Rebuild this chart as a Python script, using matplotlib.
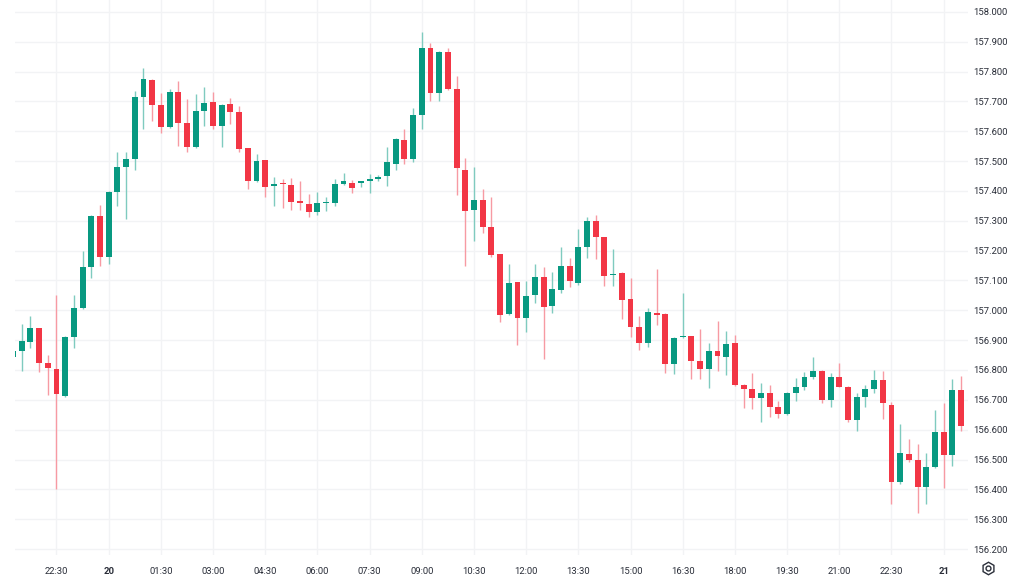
import numpy as np
import matplotlib.pyplot as plt
from matplotlib.lines import Line2D

plt.rcParams['font.family'] = ['Roboto', 'DejaVu Sans']

# 15-minute candles, from 21:15 (day 19) to 00:30 (day 21)
opens = [156.845, 156.864, 156.894, 156.941, 156.823, 156.803, 156.713, 156.910, 157.008, 157.145,
         157.316, 157.179, 157.397, 157.480, 157.507, 157.715, 157.772, 157.688, 157.615, 157.732,
         157.628, 157.547, 157.668, 157.698, 157.618, 157.692, 157.665, 157.544, 157.433, 157.504,
         157.417, 157.427, 157.420, 157.366, 157.356, 157.330, 157.360, 157.360, 157.423, 157.427,
         157.428, 157.433, 157.440, 157.450, 157.490, 157.571, 157.507, 157.655, 157.879, 157.728,
         157.866, 157.742, 157.470, 157.336, 157.370, 157.279, 157.189, 156.988, 157.095, 156.974,
         157.051, 157.112, 157.014, 157.068, 157.149, 157.092, 157.212, 157.299, 157.246, 157.118,
         157.125, 157.038, 156.944, 156.890, 156.990, 156.988, 156.820, 156.911, 156.914, 156.830,
         156.803, 156.864, 156.843, 156.890, 156.750, 156.736, 156.706, 156.723, 156.676, 156.652,
         156.723, 156.743, 156.776, 156.797, 156.699, 156.776, 156.743, 156.632, 156.709, 156.736,
         156.766, 156.683, 156.424, 156.518, 156.498, 156.408, 156.475, 156.592, 156.515, 156.733]
highs = [156.870, 156.954, 156.981, 156.941, 156.850, 157.051, 156.915, 157.051, 157.199, 157.318,
         157.353, 157.400, 157.531, 157.531, 157.735, 157.812, 157.775, 157.728, 157.742, 157.769,
         157.708, 157.725, 157.749, 157.732, 157.690, 157.712, 157.685, 157.545, 157.524, 157.505,
         157.447, 157.440, 157.443, 157.433, 157.390, 157.397, 157.380, 157.440, 157.460, 157.437,
         157.432, 157.457, 157.453, 157.547, 157.576, 157.608, 157.678, 157.933, 157.896, 157.868,
         157.879, 157.785, 157.510, 157.480, 157.407, 157.380, 157.190, 157.155, 157.096, 157.098,
         157.155, 157.145, 157.128, 157.212, 157.175, 157.273, 157.313, 157.320, 157.247, 157.205,
         157.128, 157.108, 156.981, 157.008, 157.138, 156.990, 156.910, 157.058, 156.915, 156.937,
         156.890, 156.964, 156.931, 156.917, 156.752, 156.790, 156.757, 156.750, 156.696, 156.725,
         156.773, 156.793, 156.843, 156.800, 156.790, 156.823, 156.745, 156.723, 156.750, 156.800,
         156.797, 156.693, 156.619, 156.569, 156.552, 156.522, 156.666, 156.689, 156.770, 156.780]
lows = [156.840, 156.797, 156.874, 156.793, 156.716, 156.401, 156.710, 156.874, 157.005, 157.108,
        157.149, 157.155, 157.350, 157.306, 157.470, 157.608, 157.635, 157.594, 157.612, 157.551,
        157.531, 157.545, 157.618, 157.608, 157.547, 157.625, 157.531, 157.407, 157.430, 157.380,
        157.350, 157.343, 157.336, 157.336, 157.313, 157.320, 157.333, 157.350, 157.420, 157.393,
        157.413, 157.393, 157.433, 157.417, 157.470, 157.490, 157.497, 157.608, 157.702, 157.702,
        157.740, 157.387, 157.149, 157.232, 157.259, 157.180, 156.961, 156.985, 156.884, 156.927,
        157.024, 156.837, 156.991, 157.058, 157.078, 157.085, 157.175, 157.172, 157.081, 157.081,
        156.971, 156.911, 156.867, 156.877, 156.951, 156.790, 156.786, 156.908, 156.770, 156.770,
        156.740, 156.797, 156.783, 156.745, 156.672, 156.669, 156.626, 156.642, 156.639, 156.650,
        156.696, 156.733, 156.770, 156.689, 156.676, 156.742, 156.626, 156.595, 156.676, 156.723,
        156.636, 156.351, 156.418, 156.490, 156.320, 156.351, 156.470, 156.404, 156.478, 156.595]
closes = [156.862, 156.897, 156.941, 156.823, 156.807, 156.719, 156.910, 157.008, 157.145, 157.316,
          157.179, 157.397, 157.480, 157.507, 157.715, 157.775, 157.688, 157.615, 157.732, 157.628,
          157.547, 157.668, 157.695, 157.618, 157.688, 157.665, 157.541, 157.433, 157.500, 157.413,
          157.423, 157.423, 157.363, 157.360, 157.330, 157.360, 157.363, 157.423, 157.433, 157.410,
          157.431, 157.440, 157.447, 157.497, 157.574, 157.507, 157.655, 157.879, 157.728, 157.866,
          157.742, 157.477, 157.333, 157.370, 157.279, 157.185, 156.984, 157.092, 156.974, 157.048,
          157.112, 157.011, 157.071, 157.149, 157.098, 157.212, 157.299, 157.246, 157.115, 157.121,
          157.035, 156.944, 156.890, 156.994, 156.986, 156.820, 156.907, 156.914, 156.830, 156.803,
          156.864, 156.847, 156.887, 156.750, 156.736, 156.706, 156.723, 156.676, 156.652, 156.723,
          156.743, 156.776, 156.797, 156.699, 156.776, 156.743, 156.632, 156.709, 156.736, 156.766,
          156.689, 156.424, 156.522, 156.498, 156.408, 156.475, 156.592, 156.515, 156.733, 156.612]

tick_pos = list(range(5, 108, 6))
tick_labels = ['22:30', '20', '01:30', '03:00', '04:30', '06:00', '07:30', '09:00', '10:30',
               '12:00', '13:30', '15:00', '16:30', '18:00', '19:30', '21:00', '22:30', '21']

up_col = '#089981'
down_col = '#F23645'
up_wick = '#7fcbbf'
down_wick = '#f79aa3'

fig = plt.figure(figsize=(10.24, 5.76), dpi=100)
ax = fig.add_axes([15 / 1024, 1 - 555 / 576, 953 / 1024, 555 / 576])

x = np.arange(len(opens))
o = np.array(opens)
h = np.array(highs)
l = np.array(lows)
c = np.array(closes)
up = c >= o

# фитили
ax.vlines(x[up], l[up], h[up], color=up_wick, linewidth=1, zorder=2)
ax.vlines(x[~up], l[~up], h[~up], color=down_wick, linewidth=1, zorder=2)
# тела свечей
body_bottom = np.minimum(o, c)
body_height = np.maximum(np.abs(c - o), 0.004)
ax.bar(x[up], body_height[up], bottom=body_bottom[up], width=0.68, color=up_col, zorder=3)
ax.bar(x[~up], body_height[~up], bottom=body_bottom[~up], width=0.68, color=down_col, zorder=3)

ax.set_xlim(0.23, 109.8)
ax.set_ylim(156.18, 158.04)

yt = np.round(np.arange(156.2, 158.001, 0.1), 1)
ax.set_yticks(yt)
ax.set_yticklabels([f'{v:.3f}' for v in yt])
ax.set_xticks(tick_pos)
ax.set_xticklabels(tick_labels)
for lab in ax.get_xticklabels():
    if lab.get_text() in ('20', '21'):
        lab.set_fontweight('bold')

ax.yaxis.tick_right()
ax.tick_params(axis='both', length=0, labelsize=6.8, colors='#2a2e39')
ax.tick_params(axis='y', pad=4)
ax.tick_params(axis='x', pad=9)
ax.grid(True, color='#f2f3f5', linewidth=1, zorder=0)
for s in ax.spines.values():
    s.set_visible(False)

# иконка настроек в правом нижнем углу
fig.add_artist(Line2D([988 / 1024], [1 - 568 / 576], marker='h', markersize=9,
                      markerfacecolor='none', markeredgecolor='#2a2e39', markeredgewidth=1))
fig.add_artist(Line2D([988 / 1024], [1 - 568 / 576], marker='o', markersize=3.5,
                      markerfacecolor='none', markeredgecolor='#2a2e39', markeredgewidth=1))

fig.savefig('out.png', dpi=100, facecolor='white')
